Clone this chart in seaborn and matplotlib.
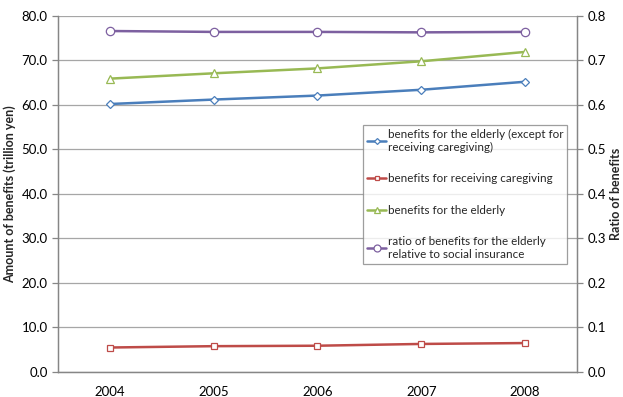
import pandas as pd
import matplotlib.pyplot as plt
import seaborn as sns
from matplotlib.lines import Line2D

years = ["2004", "2005", "2006", "2007", "2008"]
elderly_ex_care = [60.2, 61.2, 62.1, 63.4, 65.2]
caregiving = [5.5, 5.8, 5.9, 6.3, 6.5]
elderly_total = [65.9, 67.1, 68.2, 69.8, 71.9]
ratio_social = [0.766, 0.764, 0.764, 0.763, 0.764]

labels = [
    "benefits for the elderly (except for\nreceiving caregiving)",
    "benefits for receiving caregiving",
    "benefits for the elderly",
    "ratio of benefits for the elderly\nrelative to social insurance",
]
colors = ["#4A7EBB", "#BE4B48", "#98B954", "#7D60A0"]
markers = ["D", "s", "^", "o"]
msizes = [4, 4.5, 5.5, 6]

sns.set_theme(style="white")
plt.rcParams["font.family"] = ["Lato", "DejaVu Sans"]

df = pd.DataFrame({"pos": range(len(years)), "a": elderly_ex_care,
                   "b": caregiving, "c": elderly_total, "r": ratio_social})

fig, ax = plt.subplots(figsize=(6.23, 3.97), dpi=100)
ax2 = ax.twinx()

handles = []
for col, lab, c, m, ms, axis in zip(["a", "b", "c", "r"], labels, colors, markers, msizes,
                                     [ax, ax, ax, ax2]):
    sns.lineplot(data=df, x="pos", y=col, ax=axis, color=c, linewidth=1.8,
                 marker=m, markersize=ms, markerfacecolor="white",
                 markeredgecolor=c, markeredgewidth=0.9)
    handles.append(Line2D([], [], color=c, lw=1.8, marker=m, markersize=ms - 1,
                          markerfacecolor="white", markeredgecolor=c, markeredgewidth=0.9))

ax.set_ylim(0, 80)
ax2.set_ylim(0, 0.8)
ax.set_xlim(-0.5, len(years) - 0.5)
ax.set_yticks([i * 10 for i in range(9)])
ax.set_yticklabels([f"{i * 10:.1f}" for i in range(9)])
ax2.set_yticks([i / 10 for i in range(9)])
ax2.set_yticklabels([f"{i / 10:.1f}" for i in range(9)])
ax.set_xticks(range(len(years)))
ax.set_xticklabels(years)

ax.grid(axis="y", color="#a6a6a6", linewidth=0.9)
ax.set_axisbelow(True)
for a in (ax, ax2):
    a.spines["top"].set_visible(False)
    for s in ("left", "right", "bottom"):
        a.spines[s].set_color("#868686")
        a.spines[s].set_linewidth(0.9)
    a.tick_params(axis="both", labelsize=9.5, colors="#868686", labelcolor="black",
                  length=4, width=0.9)
ax.tick_params(axis="y", left=True, direction="out")
ax2.tick_params(axis="y", right=True, direction="out")
ax.tick_params(axis="x", bottom=False, pad=6)

ax.set_xlabel("")
ax.set_ylabel("Amount of benefits (trillion yen)", fontsize=9, fontweight="bold")
ax2.set_ylabel("Ratio of benefits", fontsize=9, fontweight="bold", labelpad=3)

leg = ax2.legend(handles, labels, loc="upper left", bbox_to_anchor=(0.588, 0.694),
                 fontsize=8.4, frameon=True, fancybox=False, handlelength=1.6,
                 handletextpad=0.15, labelspacing=1.75, borderpad=0.35,
                 borderaxespad=0)
leg.get_frame().set_edgecolor("#868686")
leg.get_frame().set_linewidth(0.9)

plt.subplots_adjust(left=0.093, right=0.926, top=0.96, bottom=0.063)
plt.savefig("out.png", dpi=100)
